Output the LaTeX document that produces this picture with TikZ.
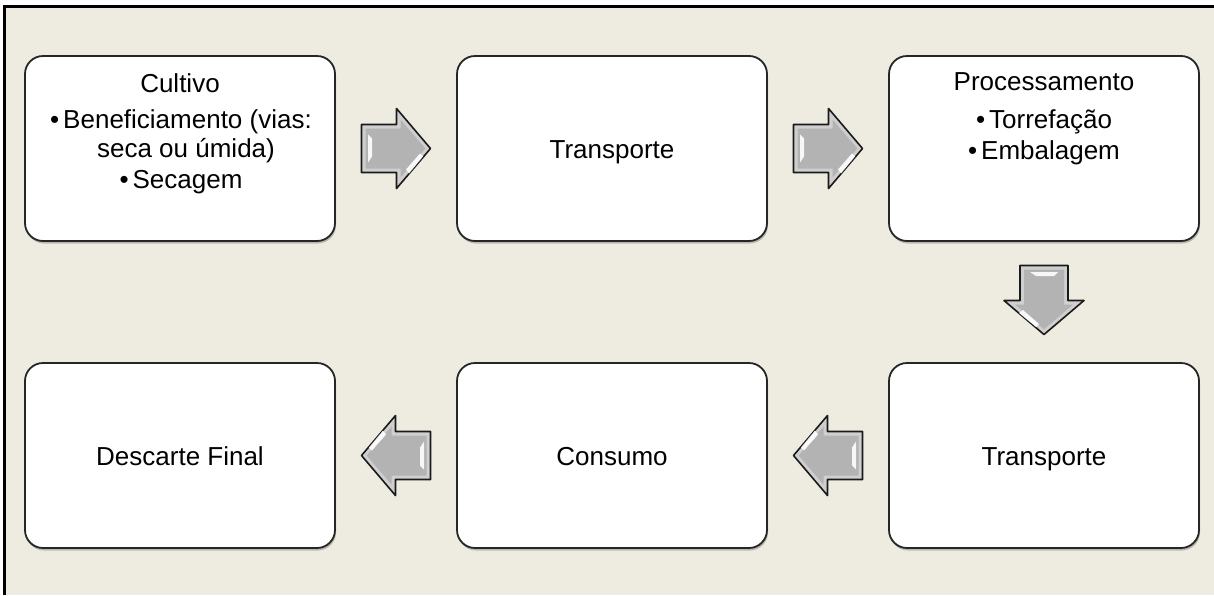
\documentclass[tikz,border=0pt]{standalone}
\usepackage{fontspec}
\setmainfont{Liberation Sans}
\usetikzlibrary{shadows,calc}
\definecolor{bgtan}{HTML}{EEECE1}
\definecolor{boxline}{HTML}{262626}
\definecolor{arrline}{HTML}{1A1A1A}
\definecolor{arredge}{HTML}{CFCFCF}
\definecolor{arrmid}{HTML}{B3B3B3}
\tikzset{
  stagebox/.style={draw=boxline, line width=1.8pt, fill=white, rounded corners=18pt,
    minimum width=310pt, minimum height=185pt, inner sep=0pt,
    drop shadow={shadow xshift=1pt, shadow yshift=-2.5pt, opacity=0.22, fill=black}},
  lbl/.style={anchor=base, inner sep=0pt, font=\fontsize{26}{31}\selectfont},
  blockarrow/.pic={
    \path[draw=arrline, line width=1.6pt, line join=round, fill=arredge]
      (-34.5,-24) -- (0.5,-24) -- (0.5,-40) -- (34.5,0) -- (0.5,40) -- (0.5,24) -- (-34.5,24) -- cycle;
    \fill[arrmid]
      (-30.5,-20) -- (4.5,-20) -- (4.5,-29.1) -- (29.3,0) -- (4.5,29.1) -- (4.5,20) -- (-30.5,20) -- cycle;
    \fill[white, opacity=0.9] (-28,-14) -- (-24,-10) -- (-24,8) -- (-28,14) -- cycle;
    \fill[white, opacity=0.9] (10,21) -- (24,5) -- (27,8) -- (13,25) -- cycle;
  }
}
\begin{document}
\begin{tikzpicture}[x=1pt,y=-1pt]
\useasboundingbox (0,0) rectangle (1214,595);
\fill[white] (0,0) rectangle (1214,595);
\fill[bgtan] (4.7,6.5) rectangle (1214,595);
\draw[black, line width=2.5pt] (4.7,595) -- (4.7,6.5) -- (1214,6.5);

% stage boxes
\node[stagebox] (cultivo) at (180,148.5) {};
\node[stagebox] (transp1) at (612,148.5) {};
\node[stagebox] (process) at (1044,148.5) {};
\node[stagebox] (transp2) at (1044,455.5) {};
\node[stagebox] (consumo) at (612,455.5) {};
\node[stagebox] (descarte) at (180,455.5) {};

% texts
\node[lbl] (t1a) at (180,92) {Cultivo};
\node[lbl] (t1b) at (181,128) {•\hspace{4pt}Beneficiamento (vias:};
\node[lbl] (t1c) at (186,157) {seca ou úmida)};
\node[lbl] (t1d) at (181,188) {•\hspace{4pt}Secagem};
\node[lbl] (t2) at (612,158) {Transporte};
\node[lbl] (t3a) at (1044,90) {Processamento};
\node[lbl] (t3b) at (1044,128) {•\hspace{4pt}Torrefação};
\node[lbl] (t3c) at (1044,159) {•\hspace{4pt}Embalagem};
\node[lbl] (t4) at (1044,465) {Transporte};
\node[lbl] (t5) at (612,465) {Consumo};
\node[lbl] (t6) at (180,465) {Descarte Final};

% block arrows
\pic at ($(cultivo.east)!0.5!(transp1.west)$) {blockarrow};
\pic at ($(transp1.east)!0.5!(process.west)$) {blockarrow};
\pic[rotate=-90] at ($(process.south)!0.5!(transp2.north)+(0,-2)$) {blockarrow};
\pic[rotate=180] at ($(transp2.west)!0.5!(consumo.east)$) {blockarrow};
\pic[rotate=180] at ($(consumo.west)!0.5!(descarte.east)$) {blockarrow};
\end{tikzpicture}
\end{document}
